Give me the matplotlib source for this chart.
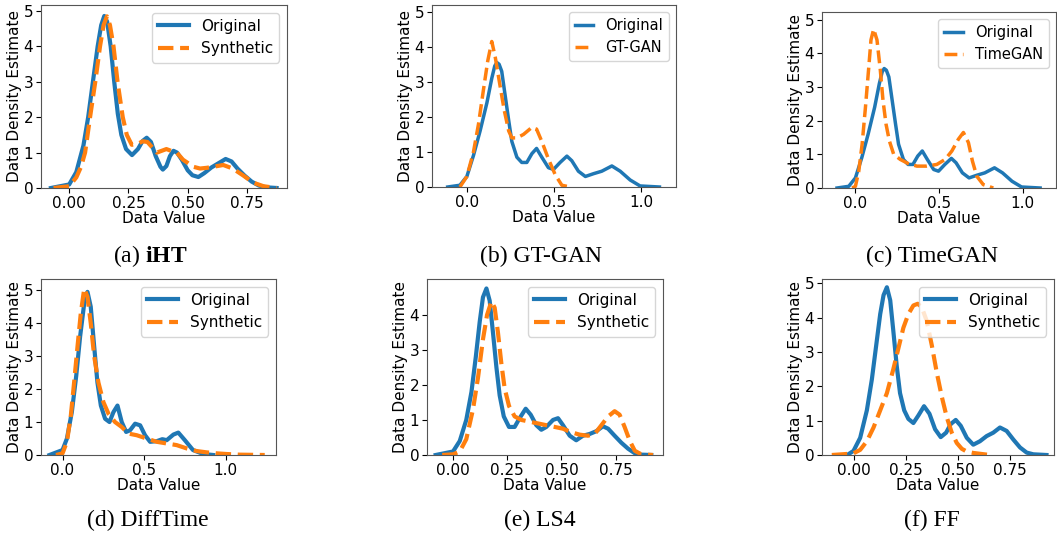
import numpy as np
import matplotlib
matplotlib.use('Agg')
import matplotlib.pyplot as plt

plt.rcParams['font.family'] = ['DejaVu Sans']
plt.rcParams['mathtext.fontset'] = 'custom'
plt.rcParams['mathtext.rm'] = 'Liberation Serif'
plt.rcParams['mathtext.bf'] = 'Liberation Serif:bold'

BLUE = '#1f77b4'; ORANGE = '#ff7f0e'

# ---- curves (x, density) ----
# (a) iHT
a_orig_x = [-0.077, 0.0, 0.03, 0.06, 0.08, 0.10, 0.12, 0.135, 0.148, 0.16, 0.175, 0.19, 0.205, 0.22, 0.24,
            0.265, 0.29, 0.31, 0.327, 0.345, 0.365, 0.385, 0.395, 0.41, 0.425, 0.44, 0.455, 0.475, 0.5,
            0.52, 0.545, 0.57, 0.6, 0.63, 0.66, 0.685, 0.71, 0.74, 0.77, 0.80, 0.83, 0.875]
a_orig_y = [0.0, 0.1, 0.45, 1.2, 2.0, 3.0, 4.0, 4.6, 4.86, 4.7, 4.0, 3.0, 2.1, 1.5, 1.1,
            0.93, 1.1, 1.33, 1.42, 1.3, 0.9, 0.6, 0.52, 0.62, 0.9, 1.05, 1.0, 0.8, 0.5,
            0.36, 0.31, 0.42, 0.58, 0.7, 0.82, 0.75, 0.55, 0.35, 0.18, 0.07, 0.02, 0.0]
a_syn_x = [-0.066, 0.0, 0.03, 0.05, 0.067, 0.088, 0.11, 0.13, 0.145, 0.159, 0.172, 0.187, 0.204, 0.226,
           0.243, 0.264, 0.29, 0.31, 0.33, 0.35, 0.37, 0.39, 0.41, 0.43, 0.454, 0.48, 0.524, 0.552,
           0.58, 0.608, 0.65, 0.69, 0.735, 0.777, 0.82, 0.875]
a_syn_y = [0.0, 0.05, 0.3, 0.6, 1.0, 2.0, 3.0, 4.0, 4.6, 4.85, 4.6, 4.0, 3.0, 2.0,
           1.5, 1.22, 1.25, 1.32, 1.3, 1.15, 1.0, 1.05, 1.1, 1.05, 1.0, 0.8, 0.6, 0.55,
           0.57, 0.6, 0.65, 0.55, 0.35, 0.15, 0.05, 0.0]

# (b) GT-GAN and (c) TimeGAN share the same original data
bc_orig_x = [-0.11, -0.04, 0.0, 0.038, 0.076, 0.115, 0.143, 0.16, 0.172, 0.185, 0.2, 0.22, 0.24, 0.258,
             0.287, 0.315, 0.344, 0.373, 0.40, 0.43, 0.468, 0.497, 0.535, 0.574, 0.602, 0.64, 0.68,
             0.727, 0.774, 0.832, 0.88, 0.937, 0.994, 1.105]
bc_orig_y = [0.0, 0.05, 0.3, 0.9, 1.6, 2.4, 3.1, 3.45, 3.55, 3.5, 3.3, 2.6, 1.9, 1.3,
             0.85, 0.7, 0.7, 0.95, 1.1, 0.85, 0.55, 0.5, 0.7, 0.88, 0.75, 0.45, 0.3,
             0.38, 0.45, 0.6, 0.45, 0.2, 0.03, 0.0]
b_syn_x = [-0.04, 0.0, 0.038, 0.067, 0.096, 0.12, 0.143, 0.163, 0.19, 0.214, 0.24, 0.258, 0.287,
           0.325, 0.373, 0.40, 0.43, 0.468, 0.507, 0.545, 0.593]
b_syn_y = [0.0, 0.3, 1.0, 1.8, 2.8, 3.6, 4.15, 3.7, 2.9, 2.2, 1.6, 1.4, 1.4,
           1.5, 1.7, 1.65, 1.3, 0.8, 0.35, 0.05, 0.0]
c_syn_x = [-0.02, 0.0, 0.02, 0.04, 0.06, 0.08, 0.093, 0.109, 0.129, 0.149, 0.165, 0.183, 0.203, 0.229,
           0.268, 0.318, 0.368, 0.427, 0.487, 0.537, 0.577, 0.616, 0.646, 0.676, 0.70, 0.726, 0.765, 0.825]
c_syn_y = [0.0, 0.05, 0.5, 1.3, 2.4, 3.6, 4.4, 4.72, 4.4, 3.5, 2.6, 1.9, 1.4, 1.0,
           0.85, 0.72, 0.65, 0.65, 0.7, 0.85, 1.1, 1.45, 1.65, 1.35, 0.8, 0.35, 0.1, 0.0]

# (d) DiffTime
d_orig_x = [-0.08, 0.0, 0.027, 0.057, 0.084, 0.108, 0.133, 0.153, 0.173, 0.194, 0.214, 0.235, 0.261,
            0.288, 0.312, 0.337, 0.363, 0.39, 0.414, 0.445, 0.476, 0.506, 0.537, 0.578, 0.612, 0.639,
            0.68, 0.71, 0.75, 0.80, 0.863, 0.924]
d_orig_y = [0.0, 0.15, 0.5, 1.3, 2.4, 3.6, 4.6, 4.95, 4.5, 3.3, 2.2, 1.5, 1.1,
            1.0, 1.3, 1.5, 1.0, 0.7, 0.75, 0.95, 0.9, 0.6, 0.4, 0.42, 0.48, 0.45,
            0.62, 0.68, 0.45, 0.15, 0.03, 0.0]
d_syn_x = [-0.04, 0.0, 0.027, 0.051, 0.071, 0.092, 0.112, 0.133, 0.153, 0.173, 0.194, 0.22, 0.251,
           0.282, 0.322, 0.363, 0.404, 0.455, 0.516, 0.578, 0.639, 0.70, 0.761, 0.822, 0.884, 0.945,
           1.006, 1.088, 1.24]
d_syn_y = [0.0, 0.05, 0.4, 1.2, 2.2, 3.3, 4.3, 5.05, 4.8, 4.0, 3.0, 2.2, 1.6,
           1.25, 1.0, 0.85, 0.65, 0.6, 0.5, 0.4, 0.35, 0.3, 0.2, 0.12, 0.08, 0.05,
           0.03, 0.01, 0.0]

# (e) LS4
e_orig_x = [-0.08, 0.0, 0.031, 0.061, 0.085, 0.105, 0.123, 0.138, 0.154, 0.169, 0.184, 0.2, 0.215,
            0.234, 0.258, 0.284, 0.307, 0.335, 0.358, 0.384, 0.407, 0.43, 0.461, 0.484, 0.507, 0.538,
            0.568, 0.599, 0.63, 0.661, 0.691, 0.715, 0.745, 0.776, 0.807, 0.838, 0.868, 0.914]
e_orig_y = [0.0, 0.1, 0.4, 1.0, 1.8, 2.8, 3.8, 4.5, 4.75, 4.4, 3.5, 2.5, 1.7,
            1.1, 0.8, 0.8, 1.05, 1.32, 1.15, 0.85, 0.72, 0.8, 1.0, 1.05, 0.85, 0.55,
            0.42, 0.55, 0.6, 0.68, 0.82, 0.75, 0.55, 0.35, 0.18, 0.05, 0.01, 0.0]
e_syn_x = [-0.05, 0.0, 0.031, 0.061, 0.092, 0.115, 0.138, 0.157, 0.177, 0.192, 0.207, 0.223, 0.238,
           0.258, 0.284, 0.315, 0.353, 0.392, 0.43, 0.469, 0.507, 0.545, 0.584, 0.622, 0.653, 0.684,
           0.715, 0.745, 0.768, 0.791, 0.815, 0.838, 0.868, 0.922]
e_syn_y = [0.0, 0.02, 0.1, 0.45, 1.3, 2.2, 3.3, 4.0, 4.38, 4.2, 3.5, 2.6, 1.9,
           1.4, 1.1, 1.0, 0.95, 0.9, 0.85, 0.8, 0.75, 0.65, 0.58, 0.55, 0.6, 0.85,
           1.1, 1.25, 1.15, 0.8, 0.4, 0.12, 0.02, 0.0]

# (f) FF
f_orig_x = [-0.03, 0.0, 0.032, 0.064, 0.088, 0.109, 0.128, 0.144, 0.16, 0.176, 0.191, 0.207, 0.223,
            0.243, 0.263, 0.287, 0.311, 0.338, 0.364, 0.391, 0.418, 0.444, 0.466, 0.49, 0.514, 0.543,
            0.574, 0.606, 0.638, 0.67, 0.702, 0.734, 0.766, 0.798, 0.83, 0.862, 0.925]
f_orig_y = [0.0, 0.12, 0.5, 1.3, 2.2, 3.2, 4.1, 4.65, 4.88, 4.5, 3.6, 2.6, 1.8,
            1.3, 1.05, 0.93, 1.15, 1.42, 1.2, 0.75, 0.52, 0.65, 0.9, 1.02, 0.85, 0.5,
            0.3, 0.4, 0.55, 0.65, 0.8, 0.7, 0.45, 0.22, 0.07, 0.02, 0.0]
f_syn_x = [-0.104, -0.032, 0.0, 0.032, 0.064, 0.096, 0.128, 0.16, 0.191, 0.215, 0.239, 0.263, 0.287,
           0.308, 0.327, 0.351, 0.375, 0.399, 0.423, 0.447, 0.471, 0.495, 0.519, 0.543, 0.574, 0.614, 0.654]
f_syn_y = [0.0, 0.03, 0.05, 0.15, 0.4, 0.8, 1.3, 1.8, 2.5, 3.1, 3.7, 4.1, 4.35,
           4.4, 4.3, 3.9, 3.2, 2.4, 1.7, 1.1, 0.65, 0.35, 0.18, 0.1, 0.06, 0.03, 0.0]

syn_labels = ['Synthetic', 'GT-GAN', 'TimeGAN', 'Synthetic', 'Synthetic', 'Synthetic']
captions = [r'(a) $\mathbf{iHT}$', '(b) GT-GAN', '(c) TimeGAN', '(d) DiffTime', '(e) LS4', '(f) FF']
xticks = [[0.0, 0.25, 0.5, 0.75], [0.0, 0.5, 1.0], [0.0, 0.5, 1.0],
          [0.0, 0.5, 1.0], [0.0, 0.25, 0.5, 0.75], [0.0, 0.25, 0.5, 0.75]]
yticks = [[0, 1, 2, 3, 4, 5]] * 4 + [[0, 1, 2, 3, 4]] + [[0, 1, 2, 3, 4, 5]]

curves = [(a_orig_x, a_orig_y, a_syn_x, a_syn_y), (bc_orig_x, bc_orig_y, b_syn_x, b_syn_y),
          (bc_orig_x, bc_orig_y, c_syn_x, c_syn_y), (d_orig_x, d_orig_y, d_syn_x, d_syn_y),
          (e_orig_x, e_orig_y, e_syn_x, e_syn_y), (f_orig_x, f_orig_y, f_syn_x, f_syn_y)]

# axes boxes in pixels (left, top, right, bottom) and limits
W, H = 1057, 533
boxes = [(41, 5, 287, 188), (432, 5, 676, 187), (822, 12, 1056, 188),
         (41, 279, 276, 455), (427, 279, 663, 455), (822, 279, 1054, 455)]
xlims = [(-0.119, 0.919), (-0.2, 1.2), (-0.2, 1.2), (-0.132, 1.309), (-0.12, 0.968), (-0.151, 0.961)]
ylims = [5.17, 5.19, 5.23, 5.34, 5.02, 5.12]
cap_pos = [(150, 256), (541, 256), (932, 256), (148, 520), (540, 520), (932, 520)]
lws = [3, 2.5, 2.5, 3, 3, 3]
leg_fs = [11, 10.5, 10.5, 11, 11, 11]

fig = plt.figure(figsize=(W / 100, H / 100), dpi=100)
for i in range(6):
    l, t, r, b = boxes[i]
    ax = fig.add_axes([l / W, 1 - b / H, (r - l) / W, (b - t) / H])
    ox, oy, sx, sy = curves[i]
    ax.plot(ox, oy, color=BLUE, lw=lws[i], label='Original')
    ax.plot(sx, sy, color=ORANGE, lw=lws[i], ls='--', label=syn_labels[i])
    ax.set_xlim(*xlims[i]); ax.set_ylim(0, ylims[i])
    ax.set_xticks(xticks[i]); ax.set_yticks(yticks[i])
    ax.tick_params(labelsize=11, pad=2)
    ax.set_xlabel('Data Value', fontsize=11, labelpad=0)
    ax.set_ylabel('Data Density Estimate', fontsize=11, labelpad=1)
    for s in ax.spines.values():
        s.set_edgecolor('#555555')
    hl = 1.3 if i in (1, 2) else 2.0
    ax.legend(fontsize=leg_fs[i], loc='upper right', handlelength=hl)
    fig.text(cap_pos[i][0] / W, 1 - cap_pos[i][1] / H, captions[i], ha='center', va='center',
             fontsize=17, family='Liberation Serif')

fig.savefig('out.png', dpi=100)
